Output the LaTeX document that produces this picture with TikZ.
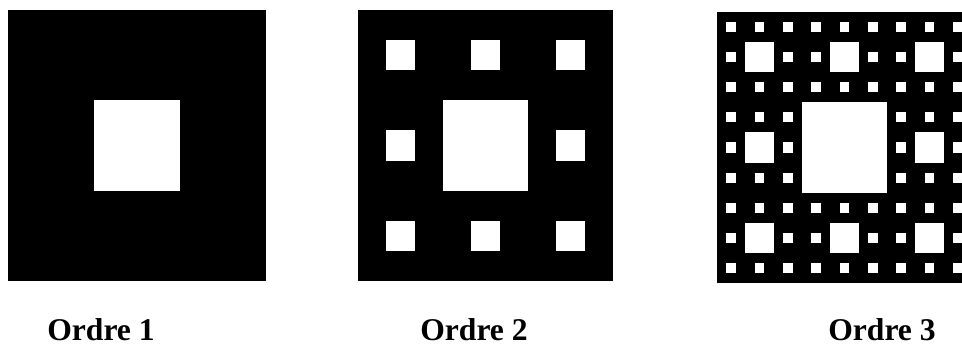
\documentclass[tikz,border=0pt]{standalone}
\usepackage{fontspec}
\setmainfont{Liberation Serif}
\usetikzlibrary{calc}
\tikzstyle{full} = [fill = black]
\tikzstyle{hole} = [fill = white]
\tikzstyle{order} = [%
					anchor = base,
					inner sep = 0,
					font = \bfseries\fontsize{18}{20}\selectfont
					]
% carpet: x0, y0, width, height, order
\newcommand{\carpet}[5]{%
  \fill[full] (#1,#2) rectangle ++(#3,#4);
  \foreach \k [evaluate={
      \m=int(3^(\k-1)-1);
      \cw=#3/3^\k;
      \ch=#4/3^\k;}] in {1,...,#5}{
    \foreach \i in {0,...,\m}{
      \foreach \j in {0,...,\m}{
        \fill[hole] ({#1+(3*\i+1)*\cw},{#2+(3*\j+1)*\ch}) rectangle ++(\cw,\ch);
      }
    }
  }
}

\begin{document}
\begin{tikzpicture}[x=0.02cm,y=-0.02cm]
  \def\W{255} % width of a carpet
  \def\H{271} % height of a carpet
  \useasboundingbox[fill=white] (0,0) rectangle (962,347);
  \clip (0,0) rectangle (962,347);

  % CARPETS
  \carpet{8}{10}{258}{\H}{1}
  \carpet{358}{10}{\W}{\H}{2}
  \carpet{717}{12}{\W}{\H}{3}

  % LABELS
  \node[order] (ord1) at (101,340) {Ordre 1};
  \node[order] (ord2) at (474,340) {Ordre 2};
  \node[order] (ord3) at (882,340) {Ordre 3};
\end{tikzpicture}
\end{document}
